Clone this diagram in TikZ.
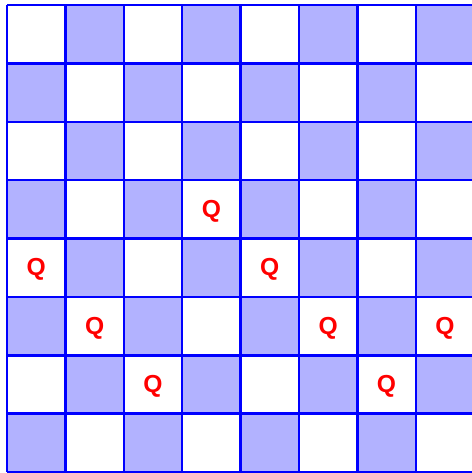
\documentclass[tikz,border=0pt]{standalone}
\usepackage{fontspec}
\setsansfont{Liberation Sans}
\usepackage{tikz}

\begin{document}
\begin{tikzpicture}[
    x=1cm, y=1cm,
    dark/.style={fill=blue!30},
    grid/.style={draw=blue, line width=1.2pt},
    queen/.style={text=red, font=\sffamily\bfseries\fontsize{12}{14}\selectfont}
]
\useasboundingbox (-0.12,-0.015) rectangle (7.96,8.085);
\foreach \c in {0,...,7}
  \foreach \j in {0,...,7}{
    \pgfmathparse{int(mod(\c+\j,2))}
    \ifnum\pgfmathresult=0
      \fill[dark] (\c,\j) rectangle ++(1,1);
    \fi
  }
\foreach \k in {0,...,8}{
  \draw[grid] (\k,0) -- (\k,8);
  \draw[grid] (0,\k) -- (8,\k);
}
\foreach \c/\j [count=\n] in {3/4, 0/3, 4/3, 1/2, 5/2, 7/2, 2/1, 6/1}
  \node[queen] (q\n) at (\c+0.5,\j+0.47) {Q};
\end{tikzpicture}
\end{document}
